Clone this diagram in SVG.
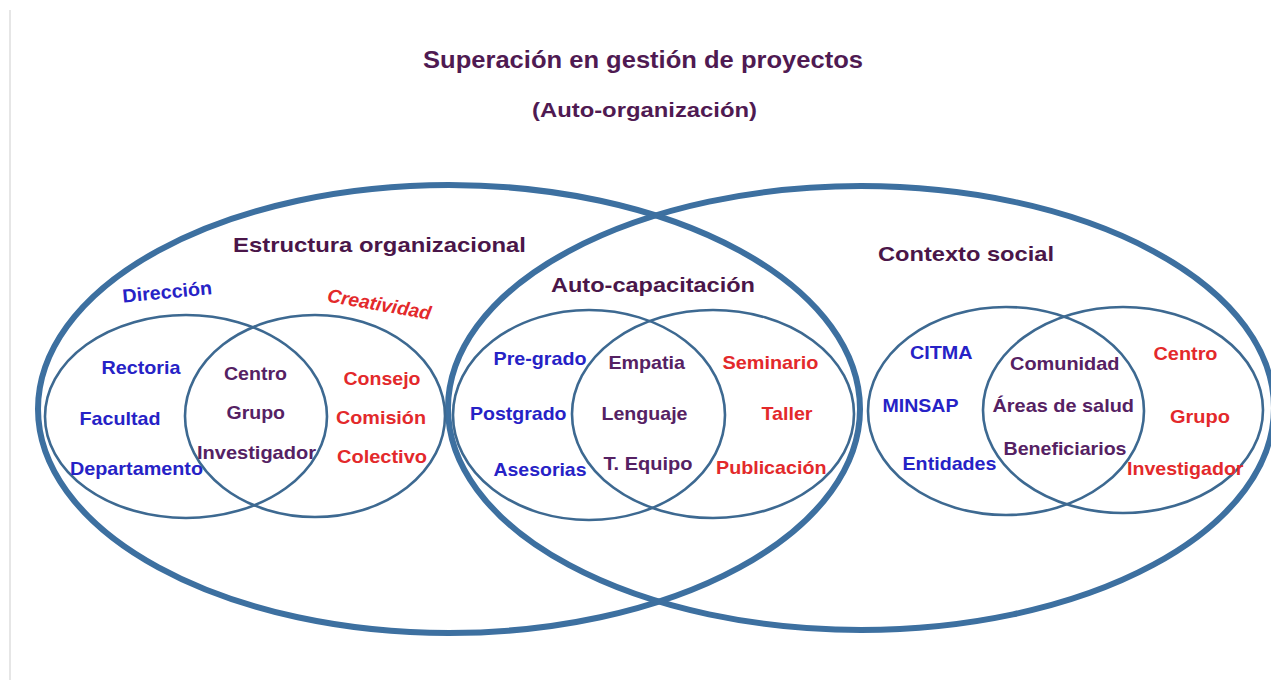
<svg xmlns="http://www.w3.org/2000/svg" width="1271" height="680" viewBox="0 0 1271 680">
<style>
.big{fill:none;stroke:#3c6fa0;stroke-width:6}
.thin{fill:none;stroke:#3d6991;stroke-width:2.6}
text{font-family:"Liberation Sans",Arial,sans-serif;font-weight:bold}
.t{fill:#4f1a52}
.h{fill:#4a1649;font-size:21px}
.b{fill:#2622c6;font-size:19px}
.r{fill:#e3292b;font-size:19px}
.p{fill:#552163;font-size:19px}
</style>
<defs>
<filter id="soft" x="-5%" y="-5%" width="110%" height="110%"><feGaussianBlur stdDeviation="0.6"/></filter>
</defs>
<rect width="1271" height="680" fill="#ffffff"/>
<line x1="10" y1="10" x2="10" y2="680" stroke="#dedede" stroke-width="1.5"/>
<g id="title">
<text class="t" x="423" y="68" font-size="23" textLength="440" lengthAdjust="spacingAndGlyphs">Superación en gestión de proyectos</text>
<text class="t" x="532" y="117" font-size="21" textLength="225" lengthAdjust="spacingAndGlyphs">(Auto-organización)</text>
</g>
<g id="connectors"></g>
<g id="estructura-organizacional">
<ellipse class="big" filter="url(#soft)" cx="449" cy="409" rx="411" ry="224"/>
<text class="h" x="233" y="252" textLength="293" lengthAdjust="spacingAndGlyphs">Estructura organizacional</text>
</g>
<g id="contexto-social">
<ellipse class="big" filter="url(#soft)" cx="861" cy="408" rx="413" ry="222"/>
<text class="h" x="878" y="261" textLength="176" lengthAdjust="spacingAndGlyphs">Contexto social</text>
</g>
<g id="auto-capacitacion">
<text class="h" x="551" y="292" textLength="204" lengthAdjust="spacingAndGlyphs">Auto-capacitación</text>
</g>
<g id="direccion">
<ellipse class="thin" cx="186" cy="416.5" rx="141" ry="101.5"/>
<text class="b" transform="translate(123,302.7) rotate(-5.5)" x="0" y="0" textLength="90" lengthAdjust="spacingAndGlyphs">Dirección</text>
<text class="b" x="101.5" y="374" textLength="79" lengthAdjust="spacingAndGlyphs">Rectoria</text>
<text class="b" x="79.5" y="425" textLength="81" lengthAdjust="spacingAndGlyphs">Facultad</text>
<text class="b" x="70" y="475" textLength="133" lengthAdjust="spacingAndGlyphs">Departamento</text>
</g>
<g id="creatividad">
<ellipse class="thin" cx="315" cy="416" rx="130" ry="101"/>
<text class="r" font-style="italic" transform="translate(326.5,301.5) rotate(10)" x="0" y="0" textLength="105" lengthAdjust="spacingAndGlyphs">Creatividad</text>
<text class="r" x="343.5" y="384.5" textLength="77" lengthAdjust="spacingAndGlyphs">Consejo</text>
<text class="r" x="336" y="423.5" textLength="90" lengthAdjust="spacingAndGlyphs">Comisión</text>
<text class="r" x="337" y="462.5" textLength="90" lengthAdjust="spacingAndGlyphs">Colectivo</text>
</g>
<g id="interseccion-estructura">
<text class="p" x="224" y="380" textLength="63" lengthAdjust="spacingAndGlyphs">Centro</text>
<text class="p" x="226.5" y="418.5" textLength="58.5" lengthAdjust="spacingAndGlyphs">Grupo</text>
<text class="p" x="197" y="458.5" textLength="119" lengthAdjust="spacingAndGlyphs">Investigador</text>
</g>
<g id="formacion">
<ellipse class="thin" cx="589" cy="415" rx="136" ry="105"/>
<text class="b" x="493.5" y="365" textLength="93" lengthAdjust="spacingAndGlyphs">Pre-grado</text>
<text class="b" x="470" y="419.5" textLength="96.5" lengthAdjust="spacingAndGlyphs">Postgrado</text>
<text class="b" x="493.5" y="476" textLength="93" lengthAdjust="spacingAndGlyphs">Asesorias</text>
</g>
<g id="actividades">
<ellipse class="thin" cx="713" cy="414" rx="141" ry="104"/>
<text class="r" x="722.5" y="368.5" textLength="96" lengthAdjust="spacingAndGlyphs">Seminario</text>
<text class="r" x="761.5" y="419.5" textLength="51" lengthAdjust="spacingAndGlyphs">Taller</text>
<text class="r" x="716" y="474" textLength="110.5" lengthAdjust="spacingAndGlyphs">Publicación</text>
</g>
<g id="interseccion-capacitacion">
<text class="p" x="608.5" y="368.5" textLength="76.5" lengthAdjust="spacingAndGlyphs">Empatia</text>
<text class="p" x="601.5" y="419.5" textLength="86" lengthAdjust="spacingAndGlyphs">Lenguaje</text>
<text class="p" x="603.5" y="470" textLength="89" lengthAdjust="spacingAndGlyphs">T. Equipo</text>
</g>
<g id="instituciones">
<ellipse class="thin" cx="1006" cy="411" rx="138" ry="104"/>
<text class="b" x="910" y="358.5" textLength="62.5" lengthAdjust="spacingAndGlyphs">CITMA</text>
<text class="b" x="882.5" y="412" textLength="76" lengthAdjust="spacingAndGlyphs">MINSAP</text>
<text class="b" x="902.5" y="470" textLength="94" lengthAdjust="spacingAndGlyphs">Entidades</text>
</g>
<g id="investigacion">
<ellipse class="thin" cx="1123" cy="410" rx="140" ry="103"/>
<text class="r" x="1153.5" y="360" textLength="64" lengthAdjust="spacingAndGlyphs">Centro</text>
<text class="r" x="1170" y="423" textLength="60" lengthAdjust="spacingAndGlyphs">Grupo</text>
<text class="r" x="1127" y="475" textLength="116.5" lengthAdjust="spacingAndGlyphs">Investigador</text>
</g>
<g id="interseccion-contexto">
<text class="p" x="1010" y="370" textLength="109.5" lengthAdjust="spacingAndGlyphs">Comunidad</text>
<text class="p" x="992.5" y="412" textLength="141.5" lengthAdjust="spacingAndGlyphs">Áreas de salud</text>
<text class="p" x="1003.5" y="455" textLength="123" lengthAdjust="spacingAndGlyphs">Beneficiarios</text>
</g>
</svg>
